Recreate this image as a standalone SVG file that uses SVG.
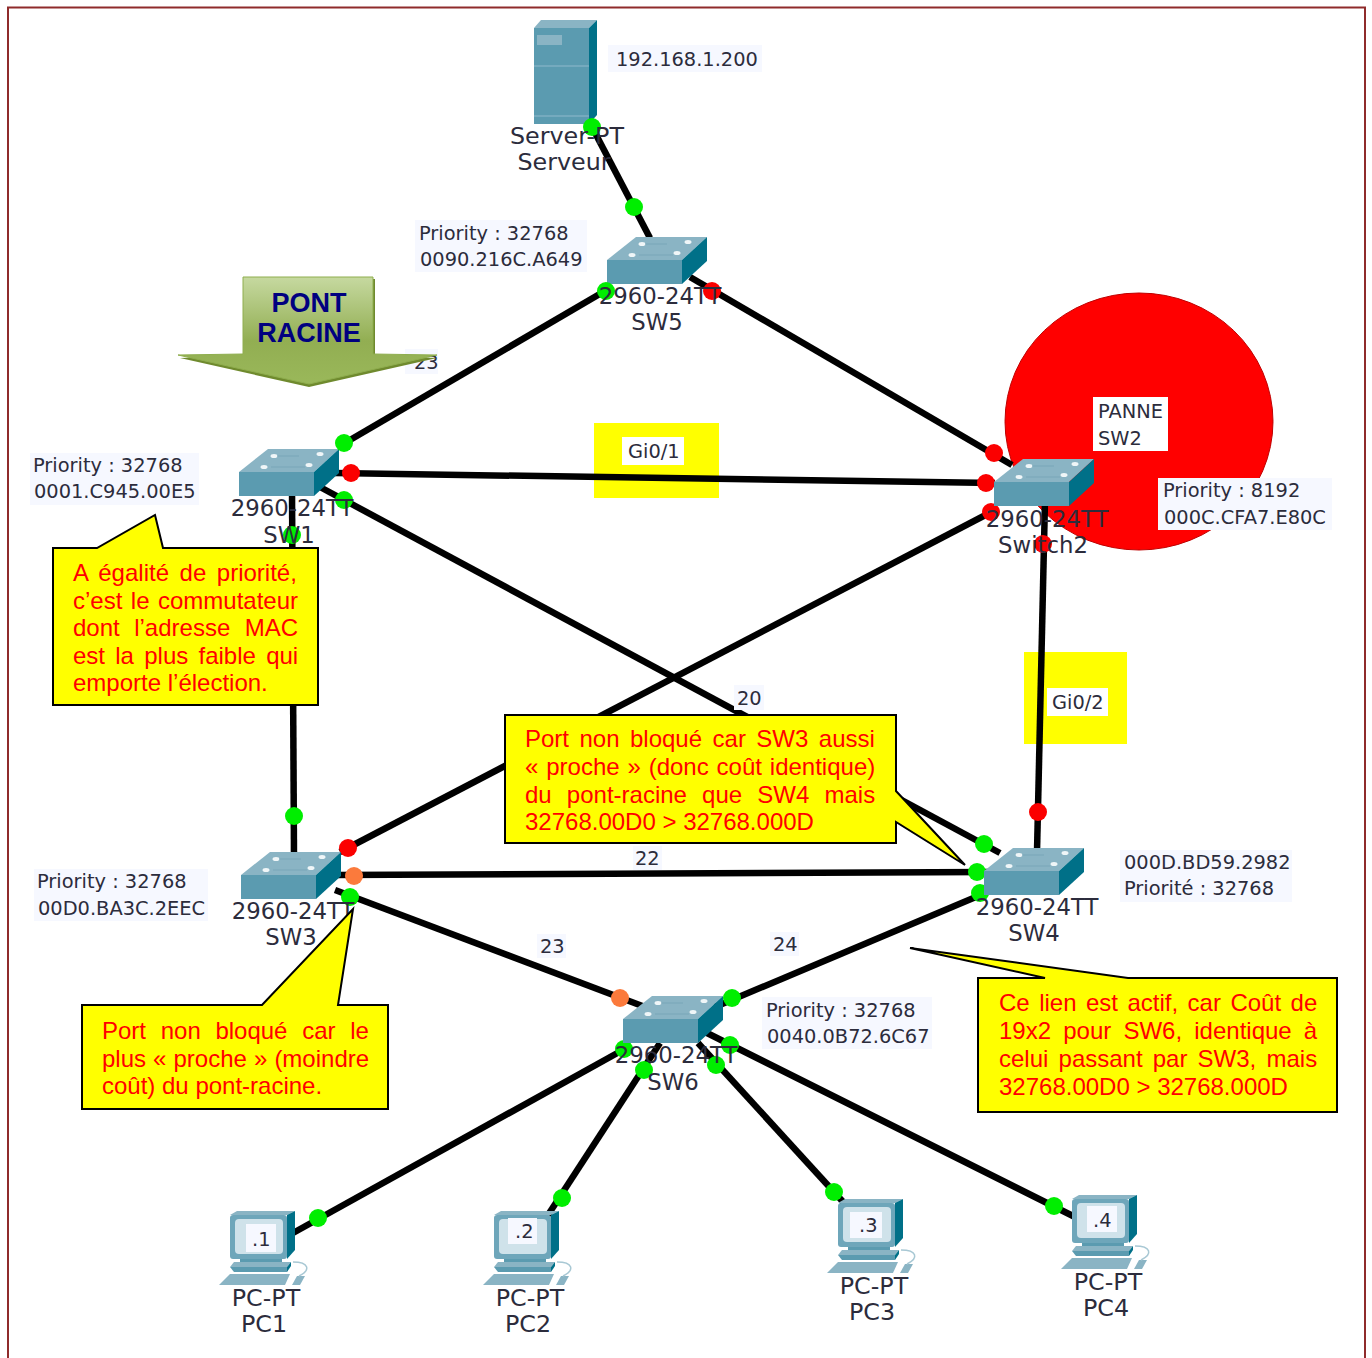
<svg xmlns="http://www.w3.org/2000/svg" width="1372" height="1358" viewBox="0 0 1372 1358">
<style>
.lnk{stroke:#000;stroke-width:6.500;fill:none}
.g{fill:#00ee00}.r{fill:#fb0000}.o{fill:#fb7a3c}
.t{font-family:"DejaVu Sans",Verdana,sans-serif;font-size:19.400px;fill:#2c2c3c}
.n{font-family:"DejaVu Sans",Verdana,sans-serif;font-size:22.800px;fill:#2c2c3c;text-anchor:middle}
.p{font-family:"DejaVu Sans",Verdana,sans-serif;font-size:23.800px;fill:#2c2c3c;text-anchor:middle}
.bg{fill:#f6f8ff}.wb{fill:#fff}
.y{fill:#ffff00}
.c{fill:#ffff00;stroke:#000;stroke-width:2}
.ct{font-family:"Liberation Sans",Arial,sans-serif;font-size:24px;fill:#ff0000}
.front{fill:#5b9bb0}.top{fill:#8ab4c4}.side{fill:#007088}
</style>
<defs>
<linearGradient id="arrowGrad" x1="0" y1="0" x2="0" y2="1">
<stop offset="0" stop-color="#c6d9a0"/><stop offset="0.6" stop-color="#92ae52"/><stop offset="1" stop-color="#9ab85a"/>
</linearGradient>
<g id="sw">
<polygon class="top" points="0,23 29,0 100,0 75,23"/>
<rect class="front" x="0" y="23" width="75" height="24"/>
<polygon class="side" points="75,23 100,0 100,24 75,47"/>
<g fill="#f0f6f8"><ellipse cx="35" cy="7" rx="3.500" ry="2"/><ellipse cx="81" cy="5" rx="3.500" ry="2"/><ellipse cx="25" cy="18" rx="3.500" ry="2"/><ellipse cx="70" cy="16" rx="3.500" ry="2"/></g>
<path d="M38,7H60M32,18H66" stroke="#79a6b8" stroke-width="1" fill="none"/>
</g>
<g id="pc">
<polygon class="top" points="11,3 18,-1 76,-1 68,3"/>
<rect x="11" y="3" width="57" height="44" rx="3" fill="#6ea6ba"/>
<polygon class="side" points="68,3 76,-1 76,38 68,47"/>
<rect x="16" y="7" width="48" height="35" rx="4" fill="#cfe2ea"/>
<rect class="front" x="21" y="47" width="42" height="4"/>
<polygon class="top" points="15,50 72,50 68,55 11,55"/>
<polygon class="front" points="11,55 68,55 68,60 15,60"/>
<polygon class="side" points="68,55 72,50 72,54 68,60"/>
<polygon class="top" points="0,73 11,62 71,62 66,73"/>
<polygon class="top" points="73,73 78,64 86,64 81,73"/>
<path d="M74,50C90,50 92,58 80,64" fill="none" stroke="#a8c8d4" stroke-width="1.500"/>
</g>
</defs>

<rect x="8" y="7.500" width="1357" height="1360" fill="#fff" stroke="#8f2b2b" stroke-width="2"/>
<ellipse id="panne" cx="1139" cy="421.500" rx="134" ry="128.500" fill="#ff0000" stroke="#c00000" stroke-width="1"/>
<rect class="y" x="594" y="423" width="125" height="75"/>
<rect class="y" x="1024" y="652" width="103" height="92"/>

<g id="connectors">
<line class="lnk" x1="592" y1="127" x2="650" y2="238"/>
<line class="lnk" x1="610" y1="288" x2="338" y2="447"/>
<line class="lnk" x1="690" y1="277" x2="1012" y2="465"/>
<line class="lnk" x1="335" y1="473" x2="995" y2="483"/>
<line class="lnk" x1="320" y1="487" x2="1000" y2="853"/>
<line class="lnk" x1="340" y1="852" x2="995" y2="510"/>
<line class="lnk" x1="292" y1="490" x2="294" y2="855"/>
<line class="lnk" x1="335" y1="875" x2="990" y2="872"/>
<line class="lnk" x1="335" y1="890" x2="645" y2="1007"/>
<line class="lnk" x1="990" y1="891" x2="715" y2="1007"/>
<line class="lnk" x1="1045" y1="500" x2="1037" y2="852"/>
<line class="lnk" x1="630" y1="1046" x2="293" y2="1233"/>
<line class="lnk" x1="660" y1="1043" x2="548" y2="1215"/>
<line class="lnk" x1="698" y1="1043" x2="845" y2="1204"/>
<line class="lnk" x1="705" y1="1032" x2="1075" y2="1217"/>
<circle class="g" cx="634" cy="207" r="9"/>
<circle class="r" cx="994" cy="453" r="9"/>
<circle class="r" cx="986" cy="483" r="9"/>
<circle class="r" cx="991" cy="512" r="9"/>
<circle class="g" cx="344" cy="500" r="9"/>
<circle class="g" cx="292" cy="535" r="9"/>
<circle class="g" cx="294" cy="816" r="9"/>
<circle class="r" cx="348" cy="848" r="9"/>
<circle class="o" cx="354" cy="876" r="9"/>
<circle class="g" cx="350" cy="897" r="9"/>
<circle class="g" cx="984" cy="844" r="9"/>
<circle class="g" cx="977" cy="872" r="9"/>
<circle class="g" cx="980" cy="893" r="9"/>
<circle class="r" cx="1038" cy="812" r="9"/>
<circle class="r" cx="1043" cy="544" r="9"/>
<circle class="o" cx="620" cy="998" r="9"/>
<circle class="g" cx="624" cy="1049" r="9"/>
<circle class="g" cx="644" cy="1070" r="9"/>
<circle class="g" cx="716" cy="1065" r="9"/>
<circle class="g" cx="730" cy="1045" r="9"/>
<circle class="g" cx="318" cy="1218" r="9"/>
<circle class="g" cx="562" cy="1198" r="9"/>
<circle class="g" cx="834" cy="1192" r="9"/>
<circle class="g" cx="1054" cy="1206" r="9"/>
</g>

<g id="server">
<polygon class="top" points="534,28 541,20 597,20 589,28"/>
<rect class="front" x="534" y="28" width="55" height="96"/>
<polygon class="side" points="589,28 597,20 597,115 589,124"/>
<rect x="537" y="35" width="25" height="10" fill="#8ab4c4"/>
<path d="M534,66H589M534,116H589" stroke="#7fb0c2" stroke-width="1.500"/>
<circle class="g" cx="592" cy="127" r="9"/>
<rect class="bg" x="608" y="45" width="154" height="27"/>
<text class="t" x="616" y="66">192.168.1.200</text>
<text class="p" x="567" y="144">Server-PT</text>
<text class="p" x="564" y="170">Serveur</text>
</g>
<g id="sw5">
<use href="#sw" x="607" y="237"/>
<circle class="g" cx="606" cy="291" r="9"/>
<circle class="r" cx="712" cy="291" r="9"/>
<rect class="bg" x="415" y="220" width="172" height="52"/>
<text class="t" x="419" y="240">Priority : 32768</text>
<text class="t" x="420" y="266">0090.216C.A649</text>
<text class="n" x="660" y="304">2960-24TT</text>
<text class="n" x="657" y="330">SW5</text>
</g>
<g id="sw1">
<use href="#sw" x="239" y="449"/>
<circle class="g" cx="344" cy="443" r="9"/>
<circle class="r" cx="351" cy="473" r="9"/>
<rect class="bg" x="30" y="453" width="169" height="52"/>
<text class="t" x="33" y="472">Priority : 32768</text>
<text class="t" x="34" y="498">0001.C945.00E5</text>
<text class="n" x="292" y="516">2960-24TT</text>
<text class="n" x="289" y="543">SW1</text>
</g>
<g id="switch2">
<use href="#sw" x="994" y="459"/>
<rect class="wb" x="1093" y="397" width="75" height="54"/>
<text class="t" x="1098" y="418">PANNE</text>
<text class="t" x="1098" y="445">SW2</text>
<rect class="bg" x="1158" y="478" width="174" height="52"/>
<text class="t" x="1163" y="497">Priority : 8192</text>
<text class="t" x="1164" y="524">000C.CFA7.E80C</text>
<text class="n" x="1047" y="527">2960-24TT</text>
<text class="n" x="1043" y="553">Switch2</text>
</g>
<g id="sw3">
<use href="#sw" x="241" y="852"/>
<rect class="bg" x="34" y="869" width="174" height="52"/>
<text class="t" x="37" y="888">Priority : 32768</text>
<text class="t" x="38" y="915">00D0.BA3C.2EEC</text>
<text class="n" x="293" y="919">2960-24TT</text>
<text class="n" x="291" y="945">SW3</text>
</g>
<g id="sw4">
<use href="#sw" x="984" y="848"/>
<rect class="bg" x="1120" y="850" width="172" height="52"/>
<text class="t" x="1124" y="869">000D.BD59.2982</text>
<text class="t" x="1124" y="895">Priorité : 32768</text>
<text class="n" x="1037" y="915">2960-24TT</text>
<text class="n" x="1034" y="941">SW4</text>
</g>
<g id="sw6">
<use href="#sw" x="623" y="996"/>
<circle class="g" cx="732" cy="998" r="9"/>
<rect class="bg" x="762" y="997" width="170" height="52"/>
<text class="t" x="766" y="1017">Priority : 32768</text>
<text class="t" x="767" y="1043">0040.0B72.6C67</text>
<text class="n" x="676" y="1063">2960-24TT</text>
<text class="n" x="673" y="1090">SW6</text>
</g>
<g id="pc1">
<use href="#pc" x="219" y="1212"/>
<rect class="bg" x="246" y="1224" width="30" height="28"/>
<text class="t" x="252" y="1246">.1</text>
<text class="p" x="266" y="1306">PC-PT</text>
<text class="p" x="264" y="1332">PC1</text>
</g>
<g id="pc2">
<use href="#pc" x="483" y="1212"/>
<rect class="bg" x="508" y="1218" width="29" height="26"/>
<text class="t" x="515" y="1238">.2</text>
<text class="p" x="530" y="1306">PC-PT</text>
<text class="p" x="528" y="1332">PC2</text>
</g>
<g id="pc3">
<use href="#pc" x="827" y="1200"/>
<rect class="bg" x="850" y="1212" width="32" height="26"/>
<text class="t" x="859" y="1232">.3</text>
<text class="p" x="874" y="1294">PC-PT</text>
<text class="p" x="872" y="1320">PC3</text>
</g>
<g id="pc4">
<use href="#pc" x="1061" y="1196"/>
<rect class="bg" x="1087" y="1206" width="30" height="26"/>
<text class="t" x="1093" y="1227">.4</text>
<text class="p" x="1108" y="1290">PC-PT</text>
<text class="p" x="1106" y="1316">PC4</text>
</g>

<g id="link-labels">
<rect class="wb" x="622" y="437" width="62" height="28"/><text class="t" x="628" y="458">Gi0/1</text>
<rect class="wb" x="1047" y="688" width="61" height="28"/><text class="t" x="1052" y="709">Gi0/2</text>
<rect class="bg" x="734" y="685" width="30" height="25"/><text class="t" x="737" y="705">20</text>
<rect class="bg" x="633" y="846" width="29" height="24"/><text class="t" x="635" y="865">22</text>
<rect class="bg" x="537" y="934" width="29" height="24"/><text class="t" x="540" y="953">23</text>
<rect class="bg" x="770" y="932" width="29" height="24"/><text class="t" x="773" y="951">24</text>
<rect class="bg" x="405" y="349" width="33" height="25"/><text class="t" x="414" y="369">23</text>
</g>

<g id="pont-racine">
<polygon points="180,358 309,387 437,358 375,356 375,279 245,279 245,356" fill="#6f8a2e"/>
<polygon points="178,355 243,354 243,277 373,277 373,354 437,355 309,384" fill="url(#arrowGrad)" stroke="#8fae4e" stroke-width="1"/>
<text x="309" y="312" text-anchor="middle" font-family="Liberation Sans,Arial,sans-serif" font-weight="700" font-size="27" fill="#000080">PONT</text>
<text x="309" y="342" text-anchor="middle" font-family="Liberation Sans,Arial,sans-serif" font-weight="700" font-size="27" fill="#000080">RACINE</text>
</g>

<g id="note1">
<polygon class="c" points="53,548 97,548 155,515 163,548 318,548 318,705 53,705"/>
<text class="ct" x="73" y="581" word-spacing="3.9">A égalité de priorité,</text>
<text class="ct" x="73" y="609" word-spacing="1.8">c’est le commutateur</text>
<text class="ct" x="73" y="636" word-spacing="7.8">dont l’adresse MAC</text>
<text class="ct" x="73" y="664" word-spacing="3.6">est la plus faible qui</text>
<text class="ct" x="73" y="691">emporte l’élection.</text>
</g>
<g id="note2">
<polygon class="c" points="505,715 896,715 896,791 965,865 896,822 896,843 505,843"/>
<text class="ct" x="525" y="747" word-spacing="3.8">Port non bloqué car SW3 aussi</text>
<text class="ct" x="525" y="775" word-spacing="1.2">« proche » (donc coût identique)</text>
<text class="ct" x="525" y="803" word-spacing="8.5">du pont-racine que SW4 mais</text>
<text class="ct" x="525" y="830">32768.00D0 &gt; 32768.000D</text>
</g>
<g id="note3">
<polygon class="c" points="82,1005 262,1005 353,909 338,1005 388,1005 388,1109 82,1109"/>
<text class="ct" x="102" y="1039" word-spacing="8">Port non bloqué car le</text>
<text class="ct" x="102" y="1067" word-spacing="0.4">plus « proche » (moindre</text>
<text class="ct" x="102" y="1094">coût) du pont-racine.</text>
</g>
<g id="note4">
<polygon class="c" points="978,978 1045,978 910,948 1128,978 1337,978 1337,1112 978,1112"/>
<text class="ct" x="999" y="1011" word-spacing="2.8">Ce lien est actif, car Coût de</text>
<text class="ct" x="999" y="1039" word-spacing="5.5">19x2 pour SW6, identique à</text>
<text class="ct" x="999" y="1067" word-spacing="3.5">celui passant par SW3, mais</text>
<text class="ct" x="999" y="1095">32768.00D0 &gt; 32768.000D</text>
</g>
</svg>
